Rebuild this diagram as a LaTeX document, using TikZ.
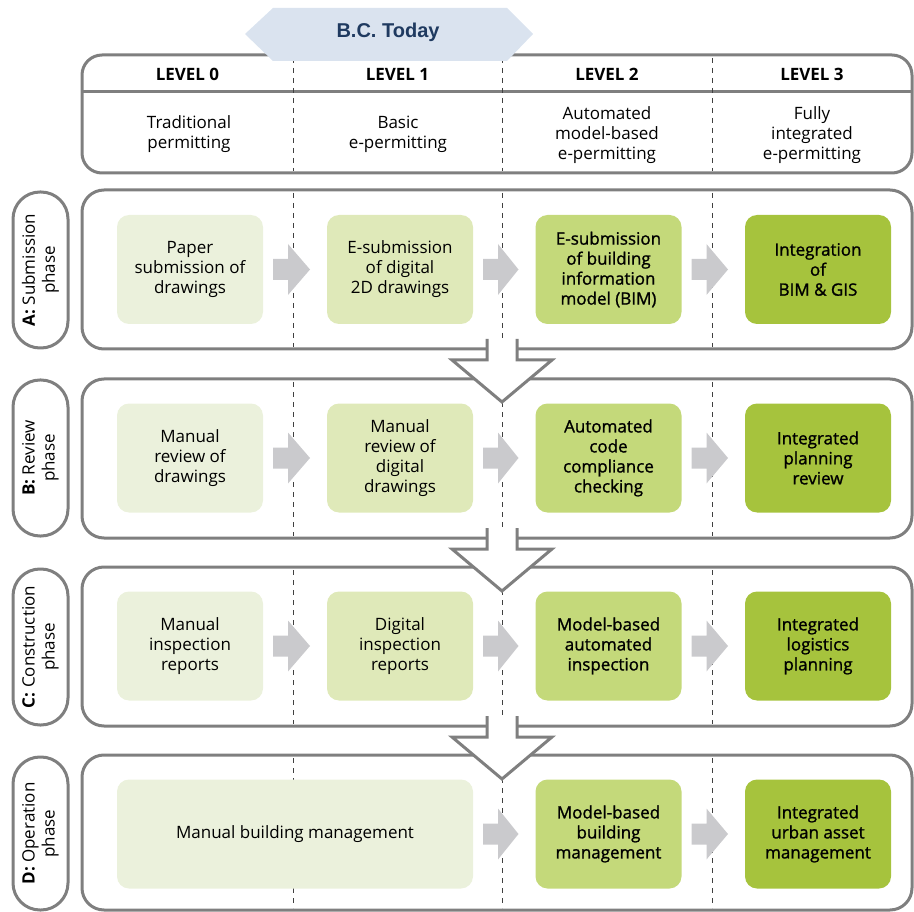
\documentclass[tikz,border=0pt]{standalone}
\usepackage{fontspec}
\setmainfont{Open Sans}
\newfontfamily\semib{Open Sans}[FakeBold=1.2]
\newfontfamily\bannerfont{Liberation Sans}
\usepackage{tikz}
\usepackage{xcolor}
\usetikzlibrary{calc}

\definecolor{linegray}{HTML}{7F7F7F}
\definecolor{dashgray}{HTML}{404040}
\definecolor{arrowgray}{HTML}{CACACD}
\definecolor{lvlzero}{HTML}{EBF1DC}
\definecolor{lvlone}{HTML}{DFE9B9}
\definecolor{lvltwo}{HTML}{C4D97A}
\definecolor{lvlthree}{HTML}{A6C33D}
\definecolor{bannerblue}{HTML}{DAE3EF}
\definecolor{bannertext}{HTML}{1F3A60}

\begin{document}
\begin{tikzpicture}[x=1pt,y=-1pt,
  every node/.style={inner sep=0pt,outer sep=0pt,font=\fontsize{17}{20}\selectfont},
  phase/.style={draw=linegray,line width=3pt,rounded corners=22pt,minimum width=830,minimum height=159},
  pill/.style={draw=linegray,line width=3pt,rounded corners=27pt,rotate=90,minimum width=156,minimum height=55,align=center},
  stage/.style={rounded corners=12pt,minimum width=146,minimum height=109,align=center},
  lvl0/.style={stage,fill=lvlzero},
  lvl1/.style={stage,fill=lvlone},
  lvl2/.style={stage,fill=lvltwo,font=\fontsize{17}{20}\selectfont\semib},
  lvl3/.style={stage,fill=lvlthree,font=\fontsize{17}{20}\selectfont\semib},
  sep/.style={dashgray,line width=1pt,dash pattern=on 5pt off 5pt},
  down/.style={draw=linegray,line width=3pt,fill=white,miter limit=20}]
\useasboundingbox (0,0) rectangle (914,912);

\draw[linegray,line width=3pt,rounded corners=20pt] (82,55) rectangle (912,173);
\draw[linegray,line width=3pt] (82,92) -- (912,92);
\coordinate (d2) at (502,0);

\node[phase] (pA) at (497,269.5) {};
\node[phase] (pB) at (497,458.5) {};
\node[phase] (pC) at (497,646.5) {};
\node[phase,minimum height=155] (pD) at (497,832.5) {};

\foreach \x in {293,502,712}
  \foreach \t/\b in {58/171,193/347,382/536,570/724,758/908}
    \draw[sep] (\x,\t) -- (\x,\b);

\node[pill] (sA) at (40.5,270) {\textbf{A:} Submission\\phase};
\node[pill] (sB) at (40.5,458) {\textbf{B:} Review\\phase};
\node[pill] (sC) at (40.5,647) {\textbf{C:} Construction\\phase};
\node[pill,minimum width=153] (sD) at (40.5,833.5) {\textbf{D:} Operation\\phase};

\node[font=\fontsize{17}{20}\selectfont\bfseries] (l0) at (187.5,74) {LEVEL 0};
\node[font=\fontsize{17}{20}\selectfont\bfseries] (l1) at (397.5,74) {LEVEL 1};
\node[font=\fontsize{17}{20}\selectfont\bfseries] (l2) at (607,74) {LEVEL 2};
\node[font=\fontsize{17}{20}\selectfont\bfseries] (l3) at (812,74) {LEVEL 3};
\node[align=center] (h0) at (189,134) {Traditional\\permitting};
\node[align=center] (h1) at (398,134) {Basic\\e-permitting};
\node[align=center] (h2) at (607,135) {Automated\\model-based\\e-permitting};
\node[align=center] (h3) at (812,135) {Fully\\integrated\\e-permitting};

\node[lvl0] (a0) at (190,269.5) {Paper\\submission of\\drawings};
\node[lvl1] (a1) at (400,269.5) {E-submission\\of digital\\2D drawings};
\node[lvl2] (a2) at (608.5,269.5) {E-submission\\of building\\information\\model (BIM)};
\node[lvl3] (a3) at (818,269.5) {Integration\\of\\BIM \& GIS};

\node[lvl0] (b0) at (190,458) {Manual\\review of\\drawings};
\node[lvl1] (b1) at (400,458) {Manual\\review of\\digital\\drawings};
\node[lvl2] (b2) at (608.5,458) {Automated\\code\\compliance\\checking};
\node[lvl3] (b3) at (818,458) {Integrated\\planning\\review};

\node[lvl0] (c0) at (190,646) {Manual\\inspection\\reports};
\node[lvl1] (c1) at (400,646) {Digital\\inspection\\reports};
\node[lvl2] (c2) at (608.5,646) {Model-based\\automated\\inspection};
\node[lvl3] (c3) at (818,646) {Integrated\\logistics\\planning};

\node[lvl0,minimum width=356] (d0) at (295,834) {Manual building management};
\node[lvl2] (d2box) at (608.5,834) {Model-based\\building\\management};
\node[lvl3] (d3) at (818,834) {Integrated\\urban asset\\management};

\foreach \a/\b in {a0/a1,a1/a2,a2/a3,b0/b1,b1/b2,b2/b3,c0/c1,c1/c2,c2/c3,d0/d2box,d2box/d3}
  \fill[arrowgray] ($(\a.east)+(10,-10.5)$) -- ++(15,0) -- ++(0,-15) -- ($(\b.west)+(-17,0)$)
    -- ($(\a.east)+(25,25.5)$) -- ++(0,-15) -- ++(-15,0) -- cycle;

\foreach \p in {pA,pB,pC}
  \draw[down] ($(\p.south -| d2)+(-15,-10)$) -- ++(0,21) -- ++(-35,0) -- ++(50,42)
    -- ++(50,-42) -- ++(-35,0) -- ++(0,-21);

\fill[bannerblue] (245,34) -- (273,8) -- (507,8) -- (533,34) -- (507,61) -- (273,61) -- cycle;
\node[font=\fontsize{20}{24}\selectfont\bannerfont\bfseries,text=bannertext] (today) at (388,32) {B.C. Today};
\end{tikzpicture}
\end{document}
